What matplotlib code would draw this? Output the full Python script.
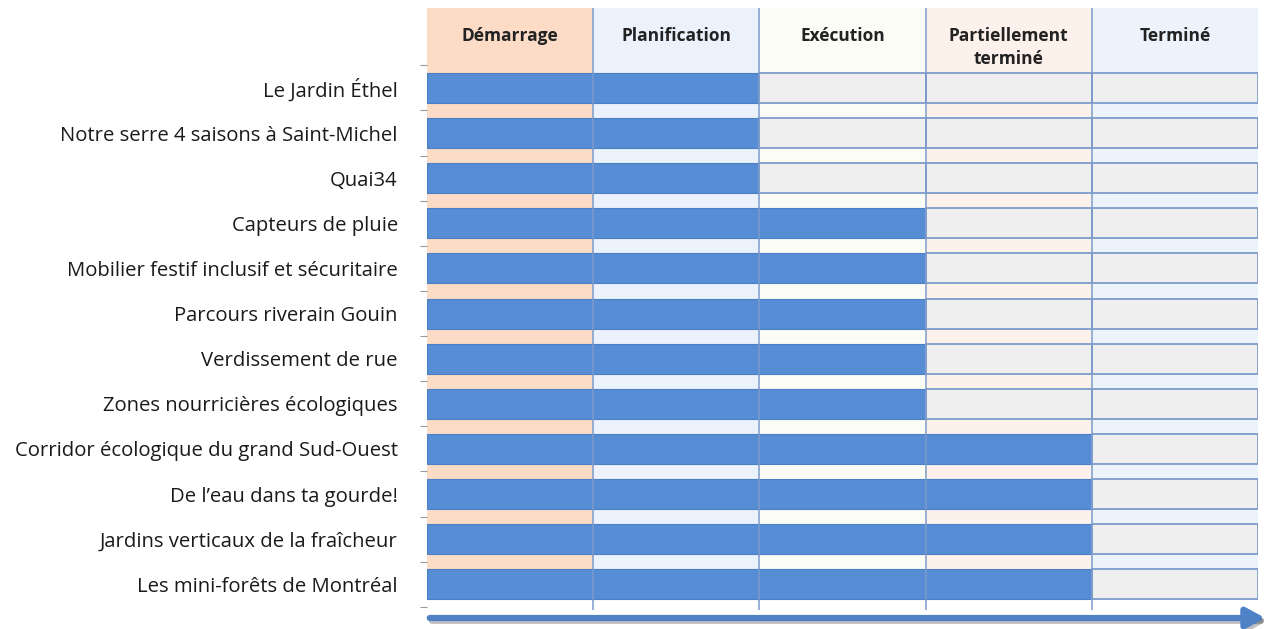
import matplotlib.pyplot as plt
from matplotlib.patches import FancyArrowPatch
import matplotlib.patheffects as pe

projets = ["Le Jardin Éthel", "Notre serre 4 saisons à Saint-Michel", "Quai34",
           "Capteurs de pluie", "Mobilier festif inclusif et sécuritaire",
           "Parcours riverain Gouin", "Verdissement de rue",
           "Zones nourricières écologiques", "Corridor écologique du grand Sud-Ouest",
           "De l’eau dans ta gourde!", "Jardins verticaux de la fraîcheur",
           "Les mini-forêts de Montréal"]
etapes = ["Démarrage", "Planification", "Exécution", "Partiellement\nterminé", "Terminé"]
# nombre d'étapes franchies par projet
avancement = [2, 2, 2, 3, 3, 3, 3, 3, 4, 4, 4, 4]

fonds = ["#fcdcc7", "#ebf2fb", "#fbfcf6", "#fdf1ec", "#edf3fb"]
bleu = "#568dd4"
gris = "#efefef"
ligne = "#7d9bcb"

plt.rcParams['font.family'] = ['Open Sans', 'DejaVu Sans']

fig = plt.figure(figsize=(12.7, 6.29), dpi=100)
# axes placés en pixels : x 427->1258, y 8->610
ax = fig.add_axes([427/1270, 1 - 610/629, (1258-427)/1270, (610-8)/629])

n = len(projets)
haut = 0.665
y_top = -1.77
y_bas = 11.57
ax.set_xlim(0, len(etapes))
ax.set_ylim(y_bas, y_top)

# fonds de colonnes (en-tête + bandes entre les lignes)
for j, c in enumerate(fonds):
    ax.axvspan(j, j + 1, ymin=0, ymax=1, color=c, zorder=0, lw=0)
ax.axhspan(n - 1 + haut / 2, y_bas, color="white", zorder=0.5, lw=0)

# barres
for i, a in enumerate(avancement):
    ax.barh(i, a, left=0, height=haut, color=bleu, edgecolor="#4a7fc4", lw=0.8, zorder=2)
    for j in range(a, len(etapes)):
        ax.barh(i, 1, left=j, height=haut, color=gris, edgecolor=ligne, lw=1.3, zorder=2)

# lignes verticales des colonnes
for j in range(1, len(etapes)):
    ax.axvline(j, color=ligne, lw=1.1, zorder=3)

# titres des colonnes
for j, e in enumerate(etapes):
    ax.text(j + 0.5, -1.36, e, ha="center", va="top", fontsize=12.5,
            fontweight="bold", color="#222222", linespacing=1.42)

ax.set_yticks(range(n))
ax.set_yticklabels(projets, fontsize=14.6, color="#1a1a1a")
ax.set_yticks([i + 0.5 for i in range(-1, n)], minor=True)
ax.tick_params(axis="y", which="major", length=0, pad=21)
ax.tick_params(axis="y", which="minor", length=5, color="#999999", width=0.8)
ax.set_xticks([])
for s in ax.spines.values():
    s.set_visible(False)

# flèche du temps
fl = FancyArrowPatch((427/1270, 1 - 618/629), (1268/1270, 1 - 618/629),
                     transform=fig.transFigure, arrowstyle="-|>,head_length=11,head_width=6",
                     color="#4f81c7", lw=4.5, mutation_scale=1,
                     path_effects=[pe.SimpleLineShadow(offset=(1.5, -2), alpha=0.25), pe.Normal()])
fig.add_artist(fl)

fig.savefig("out.png", dpi=100)
